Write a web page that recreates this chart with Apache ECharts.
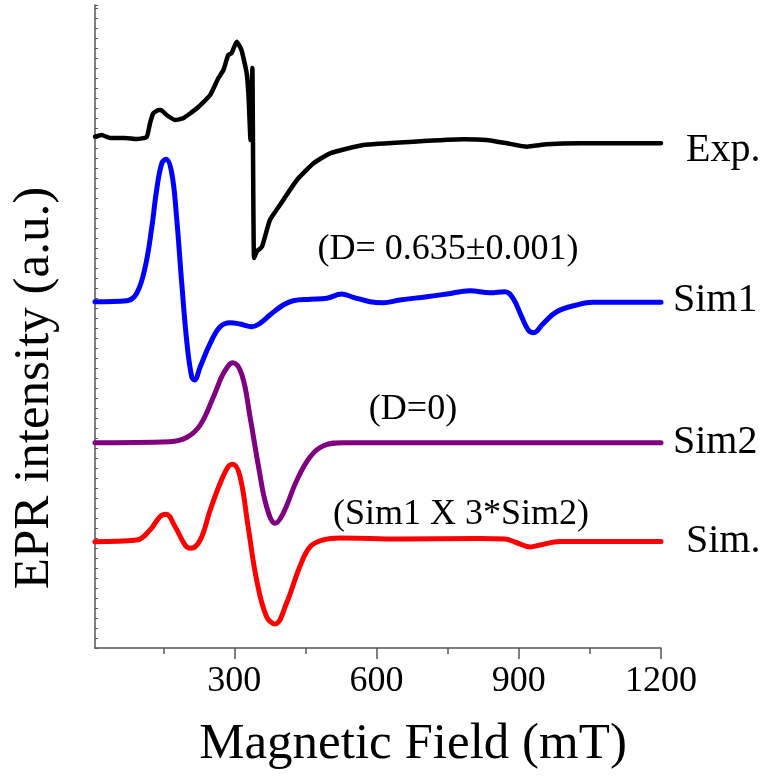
<!DOCTYPE html>
<html>
<head>
<meta charset="utf-8">
<script src="https://cdn.jsdelivr.net/npm/echarts@6/dist/echarts.min.js"></script>
<style>html,body{margin:0;padding:0;background:#fff}#c{width:769px;height:780px}</style>
</head>
<body>
<div id="c"></div>
<script>
// Magnetic field (mT) / intensity (a.u., offset traces)
const expData = [[6,511.3],[20,513],[38,510],[69,510],[94,509],[115,511],[122,524.7],[129,534.7],[140,538],[145,538],[157,533],[175,528],[192,529.7],[221,539.7],[249,553],[266,569.7],[277,578],[287,593],[294,594.7],[305,606.3],[315,598],[326,574.7],[330,551],[334,508],[338,580],[341.5,390],[348,397],[358,401],[375,428],[396,443],[432,468],[467,484.7],[502,494.7],[572,503],[678,506.3],[783,508.7],[832,508],[875,504.7],[917,501.3],[959,503.7],[1029,504.7],[1200,504.7]];
const sim1Data = [[6,346.3],[73,347.3],[94,354.7],[112,381.3],[126,421.3],[136,458],[147,484.7],[156,488.7],[168,474.7],[178,431.3],[189,364.7],[200,304.7],[210,271.3],[216,268],[228,281.3],[249,304.7],[270,321.3],[291,325.3],[312,324],[337,321.3],[354,324.7],[375,333],[403,343],[424,347.3],[460,348.7],[495,349.7],[526,354],[551,350.7],[586,346.3],[614,345.3],[649,348],[706,351.3],[748,354],[797,357.3],[839,355.3],[871,356.3],[888,349.7],[906,331.3],[920,318],[931,315.3],[952,324.7],[980,336.3],[1022,343],[1057,345.7],[1200,345.7]];
const sim2Data = [[6,205.3],[164,206.3],[200,210.7],[228,223],[256,251.3],[277,274.7],[297,285.3],[316,273],[333,231.3],[351,181.3],[368,141.3],[386,124.7],[403,134.7],[432,168],[460,191.3],[488,202.3],[530,205.3],[1200,205.3]];
const simData = [[6,106.3],[94,108],[122,118],[143,131.3],[156,133.7],[175,121.3],[196,103],[208,99.7],[228,108],[249,138],[270,164.7],[287,181.3],[297,183.7],[312,171.3],[329,121.3],[347,68],[368,31.3],[386,24],[410,44.7],[438,81.3],[460,101.3],[487,108],[523,110],[649,109],[817,109.5],[871,109],[892,106],[924,101],[945,103],[987,106.5],[1200,106.5]];
const majorTicks = [300,600,900,1200];
const minorTicks = [150,450,750,1050];
const traceNames = ['Exp.','Sim1','Sim2','Sim.'];
const notes = ['(D= 0.635\u00b10.001)','(D=0)','(Sim1 X 3*Sim2)'];
const xTitle = 'Magnetic Field (mT)';
const yTitle = 'EPR intensity (a.u.)';

const FONT = '"Liberation Serif","Times New Roman",serif';
const chart = echarts.init(document.getElementById('c'), null, {renderer:'canvas'});
const axisCol = '#555';
function line(name, data, color, smooth, w){
  return {name, type:'line', data, showSymbol:false, smooth, xAxisIndex:0, yAxisIndex:0,
    lineStyle:{color, width:w, join:'round', cap:'round'}, itemStyle:{color}, animation:false};
}
const txt = (t, x, y, size, align) => ({type:'text', x, y, style:{text:t, font:`${size}px ${FONT}`, fill:'#000', align:align||'left', verticalAlign:'middle'}});
chart.setOption({
  animation:false,
  grid:{left:95, right:108, top:5, bottom:132},
  xAxis:[{
    type:'value', min:6, max:1200,
    axisLine:{show:true, lineStyle:{color:axisCol, width:1.5}},
    axisTick:{show:true, inside:false, length:11, customValues:majorTicks, lineStyle:{color:axisCol, width:1.5}},
    axisLabel:{customValues:majorTicks, color:'#000', fontFamily:'Liberation Serif', fontSize:36, margin:16, formatter:v=>String(v)},
    splitLine:{show:false}
  },{
    type:'value', min:6, max:1200, position:'bottom',
    axisLine:{show:false},
    axisTick:{show:true, length:6, customValues:minorTicks, lineStyle:{color:axisCol, width:1.5}},
    axisLabel:{show:false, customValues:minorTicks},
    splitLine:{show:false}
  }],
  yAxis:{
    type:'value', min:0, max:643, interval:10,
    axisLine:{show:true, lineStyle:{color:axisCol, width:1.5}},
    axisTick:{show:true, inside:true, length:3, lineStyle:{color:axisCol, width:1}},
    axisLabel:{show:false}, splitLine:{show:false}
  },
  series:[
    line(traceNames[0], expData, '#000000', 0.15, 4.5),
    line(traceNames[1], sim1Data, '#0000ff', 0.4, 5),
    line(traceNames[2], sim2Data, '#800080', 0.4, 5),
    line(traceNames[3], simData, '#ff0000', 0.4, 5)
  ],
  graphic:[
    txt(traceNames[0], 686, 150, 40),
    txt(traceNames[1], 673, 300, 40),
    txt(traceNames[2], 673, 442, 40),
    txt(traceNames[3], 686, 541, 40),
    txt(notes[0], 448, 250, 36, 'center'),
    txt(notes[1], 413, 410, 36, 'center'),
    txt(notes[2], 461, 515, 36, 'center'),
    txt(xTitle, 413, 745, 51, 'center'),
    {type:'text', x:35, y:388, rotation:Math.PI/2, style:{text:yTitle, font:`51px ${FONT}`, fill:'#000', align:'center', verticalAlign:'middle'}}
  ]
});
</script>
</body>
</html>
